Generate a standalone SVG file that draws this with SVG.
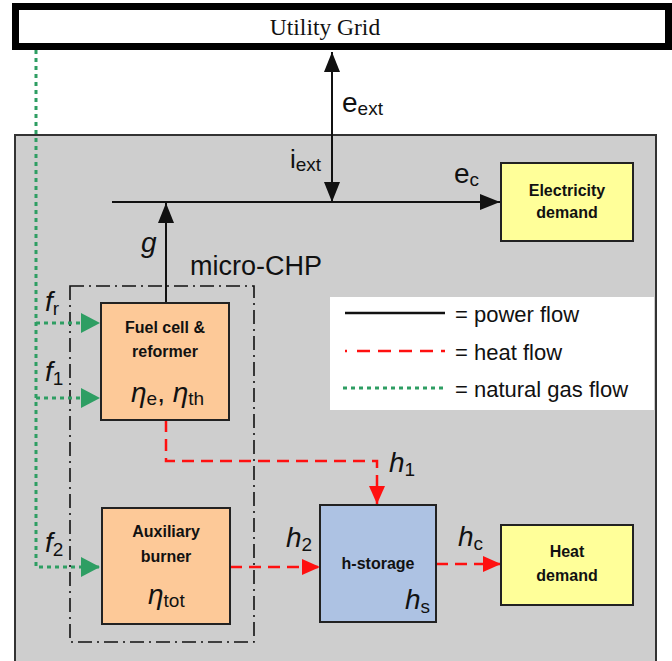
<svg xmlns="http://www.w3.org/2000/svg" width="672" height="661" viewBox="0 0 672 661">
<style>
.box{stroke:#222;stroke-width:2}
.lbl{font-family:"Liberation Sans",Arial,sans-serif;font-weight:bold;font-size:16px;fill:#111;text-anchor:middle}
.var{font-family:"Liberation Sans",Arial,sans-serif;font-style:italic;font-size:28px;fill:#111}
.up{font-style:normal}
.sub{font-family:"Liberation Sans",Arial,sans-serif;font-style:normal;font-size:19px;fill:#111}
.leg{font-family:"Liberation Sans",Arial,sans-serif;font-size:22px;fill:#111}
.pow{stroke:#111;stroke-width:2;fill:none}
.heat{stroke:#ff1010;stroke-width:2.5;fill:none;stroke-dasharray:12 7}
.gas{stroke:#2e9e63;stroke-width:3;fill:none;stroke-dasharray:4 4}
.chp{stroke:#111;stroke-width:1.6;fill:none;stroke-dasharray:14 5 2 5}
</style>
<defs>
<marker id="ab" viewBox="0 0 20 16" refX="20" refY="8" markerWidth="20" markerHeight="16" markerUnits="userSpaceOnUse" orient="auto"><path d="M0,0 L20,8 L0,16 Z" fill="#111"/></marker>
<marker id="ar" viewBox="0 0 18 16" refX="18" refY="8" markerWidth="18" markerHeight="16" markerUnits="userSpaceOnUse" orient="auto"><path d="M0,0 L18,8 L0,16 Z" fill="#ff1010"/></marker>
<marker id="ag" viewBox="0 0 19 20" refX="19" refY="10" markerWidth="19" markerHeight="20" markerUnits="userSpaceOnUse" orient="auto"><path d="M0,0 L19,10 L0,20 Z" fill="#2e9e63"/></marker>
</defs>
<rect x="0" y="0" width="672" height="661" fill="#fff"/>
<g id="panel"><rect x="15" y="135" width="641" height="540" fill="#cecece" stroke="#333" stroke-width="2"/></g>
<g id="utility-grid"><rect x="15.5" y="6.5" width="653" height="40" fill="#fff" stroke="#000" stroke-width="7"/>
<text x="325" y="35" font-family="Liberation Serif,Times New Roman,serif" font-size="23.5" text-anchor="middle" fill="#111">Utility Grid</text></g>
<g id="legend"><rect x="330" y="297" width="324" height="113" fill="#fff"/>
<line x1="345" y1="313" x2="445" y2="313" class="pow" style="stroke-width:2.5"/>
<line x1="345" y1="351" x2="445" y2="351" class="heat" style="stroke-dasharray:2 10 13 8 13 8 13 8 13 8 13"/>
<line x1="343" y1="388" x2="445" y2="388" class="gas"/>
<text x="455" y="322" class="leg">= power flow</text>
<text x="455" y="360" class="leg">= heat flow</text>
<text x="455" y="397" class="leg">= natural gas flow</text></g>
<g id="micro-chp"><rect x="70" y="286" width="184" height="356" class="chp"/>
<text x="190" y="275" class="leg" style="font-size:27px">micro-CHP</text></g>
<g id="connectors">
<line x1="332" y1="72" x2="332" y2="202" class="pow" marker-end="url(#ab)"/>
<path d="M332,72 L332,52" class="pow" marker-end="url(#ab)"/>
<line x1="112" y1="202" x2="500" y2="202" class="pow" marker-end="url(#ab)"/>
<line x1="166" y1="303" x2="166" y2="203" class="pow" marker-end="url(#ab)"/>
<path d="M36,50 L36,567 L100,567" class="gas" marker-end="url(#ag)"/>
<path d="M36,323 L100,323" class="gas" marker-end="url(#ag)"/>
<path d="M36,398 L100,398" class="gas" marker-end="url(#ag)"/>
<path d="M166,420 L166,461 L377,461 L377,504" class="heat" marker-end="url(#ar)"/>
<path d="M230,567 L320,567" class="heat" marker-end="url(#ar)"/>
<path d="M436,564 L501,564" class="heat" marker-end="url(#ar)"/>
</g>
<g id="labels">
<text x="342" y="112" class="var up">e<tspan class="sub" dy="3">ext</tspan></text>
<text x="290" y="168" class="var up" style="font-size:26px">i<tspan class="sub" dy="3">ext</tspan></text>
<text x="454" y="183" class="var up">e<tspan class="sub" dy="3">c</tspan></text>
<text x="141" y="252" class="var">g</text>
<text x="45" y="311" class="var">f<tspan class="sub" dy="4">r</tspan></text>
<text x="45" y="381" class="var">f<tspan class="sub" dy="4">1</tspan></text>
<text x="45" y="552" class="var">f<tspan class="sub" dy="4">2</tspan></text>
<text x="389" y="472" class="var">h<tspan class="sub" dy="4">1</tspan></text>
<text x="286" y="547" class="var">h<tspan class="sub" dy="4">2</tspan></text>
<text x="458" y="546" class="var">h<tspan class="sub" dy="4">c</tspan></text>
</g>
<g id="electricity-demand"><rect x="501" y="163" width="132" height="78" fill="#ffff99" class="box"/>
<text x="567" y="196" class="lbl">Electricity</text><text x="567" y="218" class="lbl">demand</text></g>
<g id="fuel-cell"><rect x="101" y="303" width="128" height="117" fill="#fdc998" class="box"/>
<text x="165" y="333" class="lbl">Fuel cell &amp;</text><text x="165" y="357" class="lbl">reformer</text>
<text x="131" y="402" class="var">η<tspan class="sub" dy="3">e</tspan><tspan dy="-3" style="font-style:normal">, </tspan><tspan>η</tspan><tspan class="sub" dy="3">th</tspan></text></g>
<g id="auxiliary-burner"><rect x="102" y="508" width="128" height="116" fill="#fdc998" class="box"/>
<text x="166" y="537" class="lbl">Auxiliary</text><text x="166" y="562" class="lbl">burner</text>
<text x="148" y="604" class="var">η<tspan class="sub" dy="3">tot</tspan></text></g>
<g id="h-storage"><rect x="320" y="505" width="116" height="117" fill="#adc2e3" class="box"/>
<text x="378" y="569" class="lbl">h-storage</text>
<text x="405" y="609" class="var">h<tspan class="sub" dy="4">s</tspan></text></g>
<g id="heat-demand"><rect x="501" y="525" width="132" height="80" fill="#ffff99" class="box"/>
<text x="567" y="557" class="lbl">Heat</text><text x="567" y="581" class="lbl">demand</text></g>
</svg>
